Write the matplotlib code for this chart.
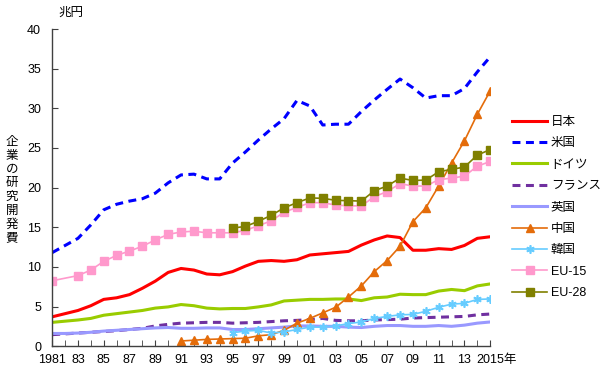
import matplotlib
matplotlib.use("Agg")
import matplotlib.pyplot as plt
import matplotlib.transforms as mtransforms
import numpy as np

plt.rcParams['font.family'] = ['Liberation Sans', 'Noto Sans CJK JP', 'DejaVu Sans']

years = np.arange(1981, 2016)

japan = [3.7, 4.1, 4.5, 5.1, 5.9, 6.1, 6.5, 7.3, 8.2, 9.3, 9.8, 9.6, 9.1, 9.0, 9.4,
         10.1, 10.7, 10.8, 10.7, 10.9, 11.5, 11.65, 11.8, 11.95, 12.75, 13.4, 13.9,
         13.7, 12.1, 12.1, 12.3, 12.2, 12.7, 13.6, 13.8]
usa = [11.8, 12.7, 13.6, 15.3, 17.2, 17.9, 18.3, 18.6, 19.3, 20.6, 21.6, 21.7, 21.1,
       21.1, 23.1, 24.5, 26.0, 27.4, 28.7, 31.0, 30.3, 27.9, 28.0, 28.0, 29.6, 31.05,
       32.4, 33.7, 32.6, 31.3, 31.6, 31.6, 32.5, 34.6, 36.5]
germany = [3.0, 3.15, 3.3, 3.5, 3.9, 4.1, 4.3, 4.5, 4.8, 4.95, 5.25, 5.1, 4.8, 4.7,
           4.75, 4.75, 4.95, 5.2, 5.7, 5.8, 5.9, 5.9, 5.95, 5.95, 5.75, 6.1, 6.2, 6.55,
           6.5, 6.5, 6.95, 7.15, 7.0, 7.6, 7.85]
france = [1.45, 1.55, 1.65, 1.75, 1.85, 1.95, 2.1, 2.25, 2.55, 2.75, 2.9, 2.95, 3.0,
          3.0, 2.9, 2.95, 3.0, 3.1, 3.2, 3.25, 3.35, 3.5, 3.25, 3.2, 3.2, 3.3, 3.35,
          3.4, 3.55, 3.6, 3.65, 3.7, 3.75, 3.95, 4.05]
uk = [1.6, 1.6, 1.65, 1.75, 1.9, 2.0, 2.1, 2.2, 2.3, 2.35, 2.25, 2.25, 2.3, 2.3, 2.1,
      2.1, 2.2, 2.3, 2.4, 2.55, 2.55, 2.5, 2.5, 2.4, 2.35, 2.5, 2.6, 2.6, 2.5, 2.5,
      2.6, 2.5, 2.65, 2.9, 3.05]

years_cn = np.arange(1991, 2016)
china = [0.65, 0.75, 0.85, 0.9, 0.95, 1.0, 1.3, 1.45, 2.0, 2.9, 3.5, 4.2, 4.9, 6.2,
         7.6, 9.4, 10.8, 12.6, 15.7, 17.45, 20.2, 23.1, 25.9, 29.25, 32.2]

years_95 = np.arange(1995, 2016)
korea = [1.7, 1.9, 2.0, 1.65, 1.8, 2.1, 2.4, 2.4, 2.55, 2.85, 3.05, 3.5, 3.75, 3.95,
         4.0, 4.4, 4.9, 5.3, 5.4, 5.9, 5.95]
eu28 = [14.9, 15.1, 15.75, 16.5, 17.45, 18.1, 18.7, 18.65, 18.4, 18.35, 18.3, 19.6,
        20.2, 21.2, 20.9, 20.95, 22.0, 22.3, 22.6, 24.1, 24.8]

years_eu15 = np.array([1981] + list(range(1983, 2016)))
eu15 = [8.25, 8.9, 9.6, 10.7, 11.45, 12.0, 12.6, 13.4, 14.1, 14.4, 14.5, 14.3, 14.3,
        14.3, 14.6, 15.2, 15.8, 16.9, 17.5, 18.1, 18.1, 17.8, 17.7, 17.7, 18.85, 19.5,
        20.5, 20.2, 20.2, 21.0, 21.2, 21.45, 22.7, 23.3]

tick_labels = ['1981'] + ['%02d' % (y % 100) for y in range(1983, 2015, 2)] + ['2015年']

fig = plt.figure(figsize=(6.0, 3.73), dpi=100)
ax = fig.add_axes([0.087, 0.072, 0.73, 0.85])

ax.plot(years, japan, color='#FF0000', lw=2.2, label='日本')
ax.plot(years, usa, color='#0000FF', lw=2.2, dashes=(2.6, 1.8), label='米国')
ax.plot(years, germany, color='#99CC00', lw=2.2, label='ドイツ')
ax.plot(years, france, color='#7030A0', lw=2.2, dashes=(2.6, 1.8), label='フランス')
ax.plot(years, uk, color='#9999FF', lw=2.2, label='英国')
ax.plot(years_cn, china, color='#E46C0A', lw=1.2, marker='^', ms=5.5, label='中国')
ax.plot(years_95, korea, color='#66CCFF', lw=1.2, marker=(6, 2, 0), ms=6,
        mew=1.2, label='韓国')
ax.plot(years_eu15, eu15, color='#FF99CC', lw=1.2, marker='s', ms=6, label='EU-15')
ax.plot(years_95, eu28, color='#808000', lw=1.2, marker='s', ms=6, label='EU-28')

ax.set_xlim(1981, 2015)
ax.set_ylim(0, 40)
ax.set_yticks(range(0, 41, 5))
ax.set_xticks(range(1981, 2016, 2))
ax.set_xticks(range(1981, 2016), minor=True)
ax.set_xticklabels(tick_labels)

for side in ['top', 'right']:
    ax.spines[side].set_visible(False)
for side in ['left', 'bottom']:
    ax.spines[side].set_color('#404040')
    ax.spines[side].set_linewidth(1.0)

ax.tick_params(axis='both', which='both', direction='in', color='#404040',
               labelcolor='#000000', labelsize=9)
ax.tick_params(axis='x', which='both', length=4, pad=6)
ax.tick_params(axis='y', length=4, pad=8)

# the last label "2015年" sits a little to the right of its tick
last = ax.get_xticklabels()[-1]
last.set_transform(last.get_transform() +
                   mtransforms.ScaledTranslation(6 / 100, 0, fig.dpi_scale_trans))

fig.text(0.118, 0.965, '兆円', fontsize=9, ha='center', va='center')
fig.text(0.02, 0.49, '\n'.join('企業の研究開発費'), fontsize=9, ha='center',
         va='center', linespacing=1.2)

fig.legend(loc='center left', bbox_to_anchor=(512 / 600, 1 - 207.5 / 373),
           frameon=False, fontsize=9, handlelength=2.8, labelspacing=0.75,
           handletextpad=0.3, borderpad=0, borderaxespad=0)

fig.savefig('out.png', dpi=100)
